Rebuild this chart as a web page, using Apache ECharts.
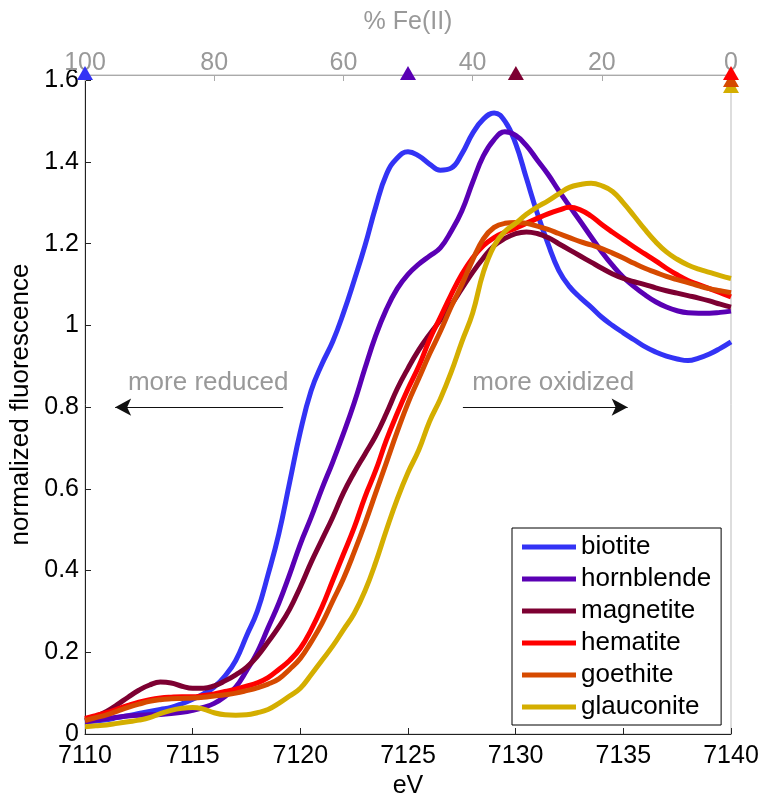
<!DOCTYPE html>
<html>
<head>
<meta charset="utf-8">
<script src="https://cdn.jsdelivr.net/npm/echarts@6/dist/echarts.min.js"></script>
<style>
  html, body { margin: 0; padding: 0; background: #fff; }
  #chart { width: 761px; height: 793px; }
</style>
</head>
<body>
<div id="chart"></div>
<script>
// energy grid (eV), 0.5 eV steps 7110 .. 7140
var energy = [7110, 7110.5, 7111, 7111.5, 7112, 7112.5, 7113, 7113.5, 7114, 7114.5,
  7115, 7115.5, 7116, 7116.5, 7117, 7117.5, 7118, 7118.5, 7119, 7119.5,
  7120, 7120.5, 7121, 7121.5, 7122, 7122.5, 7123, 7123.5, 7124, 7124.5,
  7125, 7125.5, 7126, 7126.5, 7127, 7127.5, 7128, 7128.5, 7129, 7129.5,
  7130, 7130.5, 7131, 7131.5, 7132, 7132.5, 7133, 7133.5, 7134, 7134.5,
  7135, 7135.5, 7136, 7136.5, 7137, 7137.5, 7138, 7138.5, 7139, 7139.5, 7140]

var biotite = [0.03, 0.032, 0.035, 0.04, 0.045, 0.05, 0.055, 0.06, 0.065, 0.074,
  0.085, 0.098, 0.115, 0.142, 0.18, 0.24, 0.3, 0.39, 0.49, 0.615,
  0.74, 0.84, 0.905, 0.96, 1.03, 1.11, 1.195, 1.29, 1.37, 1.41,
  1.425, 1.415, 1.395, 1.38, 1.385, 1.42, 1.47, 1.505, 1.52, 1.5,
  1.445, 1.36, 1.275, 1.2, 1.135, 1.095, 1.068, 1.045, 1.02, 1.0,
  0.982, 0.965, 0.948, 0.935, 0.925, 0.918, 0.914, 0.92, 0.93, 0.944, 0.96]

var hornblende = [0.03, 0.034, 0.038, 0.041, 0.044, 0.046, 0.047, 0.048, 0.05, 0.053,
  0.058, 0.065, 0.075, 0.092, 0.115, 0.155, 0.2, 0.26, 0.32, 0.39,
  0.465, 0.53, 0.6, 0.665, 0.735, 0.81, 0.895, 0.975, 1.04, 1.09,
  1.125, 1.15, 1.17, 1.19, 1.23, 1.28, 1.35, 1.415, 1.455, 1.474,
  1.465, 1.44, 1.405, 1.37, 1.33, 1.292, 1.255, 1.217, 1.18, 1.147,
  1.118, 1.095, 1.075, 1.058, 1.045, 1.036, 1.031, 1.03, 1.03, 1.032, 1.035]

var magnetite = [0.034, 0.043, 0.055, 0.072, 0.09, 0.107, 0.12, 0.127, 0.125, 0.117,
  0.112, 0.112, 0.118, 0.13, 0.145, 0.163, 0.19, 0.225, 0.262, 0.305,
  0.36, 0.42, 0.475, 0.53, 0.59, 0.64, 0.685, 0.73, 0.785, 0.845,
  0.895, 0.94, 0.978, 1.013, 1.05, 1.09, 1.13, 1.165, 1.195, 1.213,
  1.225, 1.229, 1.225, 1.215, 1.2, 1.185, 1.17, 1.155, 1.14, 1.126,
  1.115, 1.107, 1.1, 1.092, 1.085, 1.079, 1.073, 1.067, 1.06, 1.052, 1.045]

var hematite = [0.038, 0.045, 0.052, 0.061, 0.07, 0.078, 0.084, 0.088, 0.09, 0.091,
  0.091, 0.094, 0.098, 0.104, 0.11, 0.117, 0.125, 0.138, 0.158, 0.18,
  0.21, 0.255, 0.31, 0.375, 0.44, 0.505, 0.58, 0.645, 0.72, 0.785,
  0.845, 0.9, 0.965, 1.02, 1.075, 1.125, 1.165, 1.195, 1.215, 1.228,
  1.238, 1.25, 1.262, 1.273, 1.282, 1.289, 1.283, 1.268, 1.247, 1.228,
  1.21, 1.192, 1.175, 1.158, 1.14, 1.124, 1.11, 1.1, 1.09, 1.08, 1.07]

var goethite = [0.033, 0.04, 0.047, 0.056, 0.065, 0.073, 0.08, 0.084, 0.086, 0.087,
  0.088, 0.09, 0.093, 0.096, 0.1, 0.106, 0.113, 0.122, 0.135, 0.158,
  0.185, 0.225, 0.27, 0.325, 0.38, 0.445, 0.515, 0.59, 0.665, 0.74,
  0.81, 0.87, 0.93, 0.985, 1.045, 1.1, 1.16, 1.212, 1.24, 1.25,
  1.252, 1.25, 1.243, 1.235, 1.225, 1.215, 1.205, 1.197, 1.188, 1.177,
  1.165, 1.152, 1.14, 1.13, 1.12, 1.112, 1.105, 1.097, 1.09, 1.085, 1.08]

var glauconite = [0.018, 0.02, 0.022, 0.026, 0.03, 0.034, 0.04, 0.05, 0.058, 0.063,
  0.065, 0.061, 0.052, 0.047, 0.046, 0.047, 0.052, 0.06, 0.075, 0.093,
  0.112, 0.145, 0.18, 0.215, 0.255, 0.295, 0.35, 0.42, 0.5, 0.575,
  0.64, 0.695, 0.765, 0.82, 0.885, 0.96, 1.03, 1.13, 1.195, 1.23,
  1.25, 1.272, 1.29, 1.305, 1.322, 1.338, 1.345, 1.348, 1.342, 1.328,
  1.3, 1.268, 1.235, 1.205, 1.18, 1.162, 1.148, 1.138, 1.13, 1.122, 1.115]

var names = ['biotite', 'hornblende', 'magnetite', 'hematite', 'goethite', 'glauconite']
var colors = ['#3333f5', '#5a00b4', '#7d0032', '#ff0000', '#d64a00', '#d4ae00']
// % Fe(II) of each mineral (top axis markers)
var feII = [100, 50, 33.3, 0, 0, 0]

var font = 'Liberation Sans, Arial, Helvetica, sans-serif'
var yMax = 1.613
var seriesData = [biotite, hornblende, magnetite, hematite, goethite, glauconite]

var series = seriesData.map(function (vals, i) {
  return {
    name: names[i],
    type: 'line',
    xAxisIndex: 0,
    yAxisIndex: 0,
    smooth: 0.45,
    showSymbol: false,
    lineStyle: { width: 5, color: colors[i] },
    itemStyle: { color: colors[i] },
    data: energy.map(function (e, k) { return [e, vals[k]] }),
    z: 2 + i
  }
})

// arrows + text on biotite series
series[0].markLine = {
  silent: true,
  symbol: ['none', 'arrow'],
  symbolSize: [13, 16],
  lineStyle: { color: '#111', width: 1, type: 'solid' },
  label: {
    show: true, position: 'middle', distance: 11,
    color: '#999', fontSize: 26, fontFamily: font,
    formatter: function (p) { return p.name }
  },
  data: [
    [{ name: 'more reduced', coord: [7119.2, 0.8], label: { offset: [9, 0] } }, { coord: [7111.4, 0.8] }],
    [{ name: 'more oxidized', coord: [7127.55, 0.8], label: { offset: [8, 0] } }, { coord: [7135.2, 0.8] }]
  ]
}

// % Fe(II) triangles along the top axis; lower ones drawn first
var markerY = [1.618, 1.618, 1.618, 1.618, 1.601, 1.586]
var order = [5, 4, 3, 2, 1, 0]
series.push({
  name: 'FeII',
  type: 'scatter',
  xAxisIndex: 1,
  yAxisIndex: 0,
  symbol: 'triangle',
  symbolSize: [16, 14],
  clip: false,
  silent: true,
  z: 20,
  data: order.map(function (i) {
    return { value: [feII[i], markerY[i]], itemStyle: { color: colors[i], opacity: 1 } }
  })
})

var option = {
  backgroundColor: '#fff',
  animation: false,
  textStyle: { fontFamily: font },
  grid: {
    left: 85, right: 30, top: 75, bottom: 59,
    outerBoundsMode: 'none', containLabel: false,
    show: true, borderColor: '#bbb', borderWidth: 1, backgroundColor: 'transparent'
  },
  legend: {
    data: names,
    orient: 'vertical',
    left: 512,
    top: 528,
    icon: 'rect',
    itemWidth: 54,
    itemHeight: 5,
    itemGap: 6,
    padding: [6, 10, 5, 10],
    borderColor: '#000',
    borderWidth: 1,
    borderRadius: 0,
    backgroundColor: '#fff',
    textStyle: { fontSize: 26, color: '#000', fontFamily: font, lineHeight: 26 }
  },
  xAxis: [{
    type: 'value',
    position: 'bottom',
    min: 7110, max: 7140, interval: 5,
    name: 'eV',
    nameLocation: 'middle',
    nameGap: 38,
    nameTextStyle: { fontSize: 25, color: '#000', fontFamily: font },
    axisLine: { show: true, onZero: false, lineStyle: { color: '#222', width: 1 } },
    axisTick: { show: true, inside: true, length: 6, lineStyle: { color: '#222' } },
    axisLabel: { color: '#000', fontSize: 25, margin: 10, fontFamily: font, formatter: function (v) { return String(v) } },
    splitLine: { show: false }
  }, {
    type: 'value',
    position: 'top',
    min: 0, max: 100, interval: 20,
    inverse: true,
    name: '% Fe(II)',
    nameLocation: 'middle',
    nameGap: 40,
    nameTextStyle: { fontSize: 25, color: '#999', fontFamily: font },
    axisLine: { show: true, onZero: false, lineStyle: { color: '#aaa', width: 1 } },
    axisTick: { show: true, inside: true, length: 6, lineStyle: { color: '#aaa' } },
    axisLabel: { color: '#999', fontSize: 25, margin: -1, fontFamily: font },
    splitLine: { show: false }
  }],
  yAxis: [{
    type: 'value',
    position: 'left',
    min: 0, max: yMax, interval: 0.2,
    name: 'normalized fluorescence',
    nameLocation: 'middle',
    nameGap: 44,
    nameTextStyle: { fontSize: 26, color: '#000', fontFamily: font },
    axisLine: { show: true, onZero: false, lineStyle: { color: '#222', width: 1 } },
    axisTick: { show: true, inside: true, length: 6, lineStyle: { color: '#222' } },
    axisLabel: {
      color: '#000', fontSize: 25, margin: 6, fontFamily: font, showMaxLabel: false,
      formatter: function (v) {
        if (Math.abs(v * 5 - Math.round(v * 5)) > 1e-6) return ''
        return String(parseFloat(v.toFixed(1)))
      }
    },
    splitLine: { show: false }
  }],
  series: series
}

var chart = echarts.init(document.getElementById('chart'), null, { renderer: 'canvas' })
chart.setOption(option)
</script>
</body>
</html>
